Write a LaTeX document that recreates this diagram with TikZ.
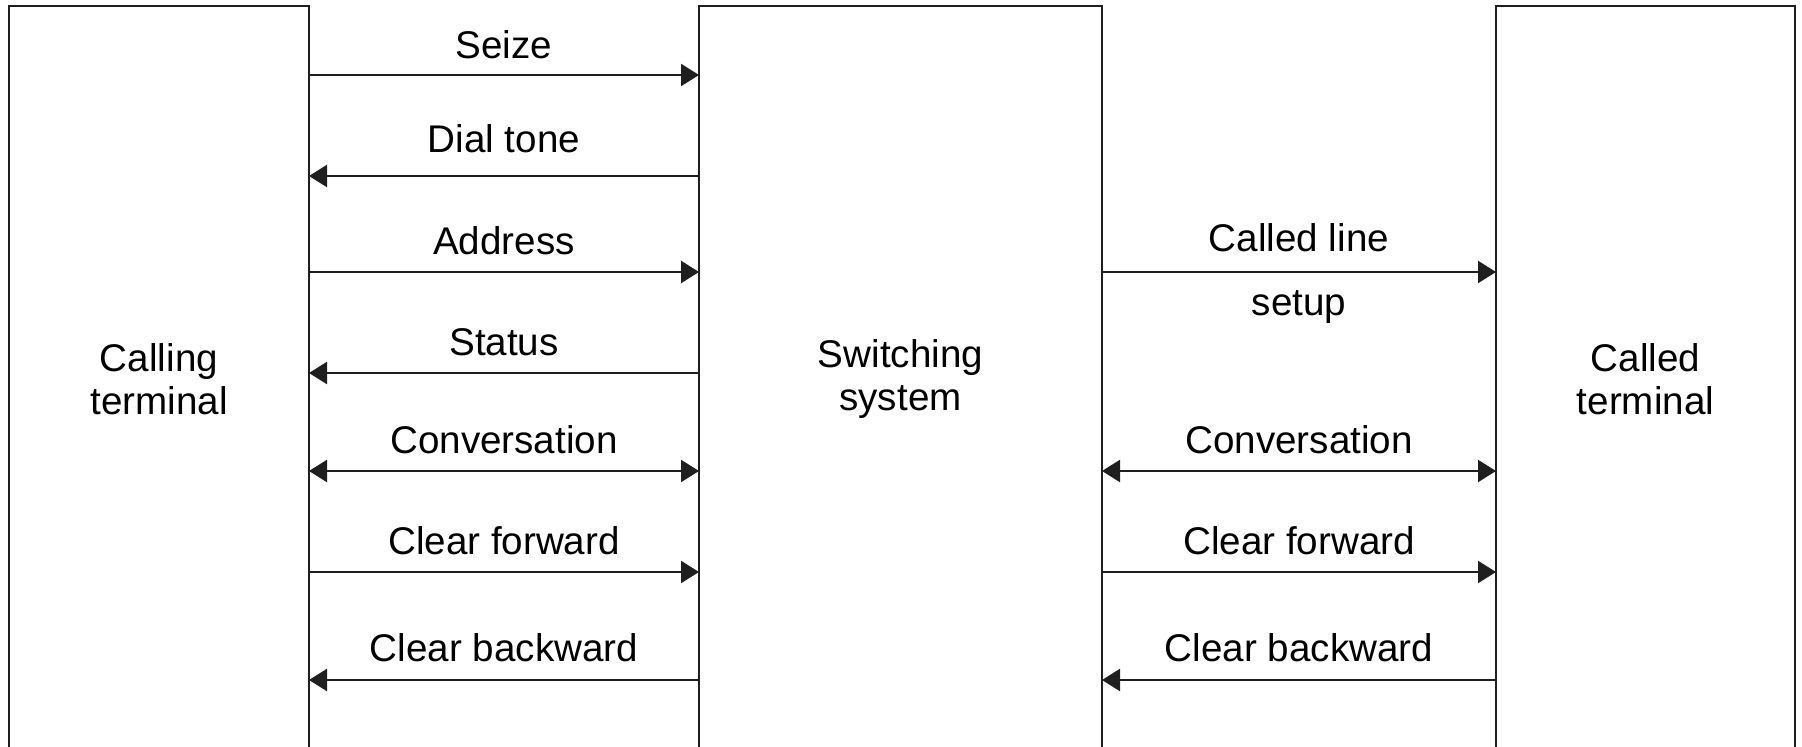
\documentclass[tikz,border=0pt]{standalone}
\usepackage{fontspec}
\setmainfont{Liberation Sans}
\usetikzlibrary{calc}
\usetikzlibrary{arrows.meta}

\begin{document}
\begin{tikzpicture}[x=1pt, y=-1pt, line width=1.15pt, black!88,
 box/.style={draw, outer sep=0, align=center, anchor=north west, minimum height=373pt, text=black},
 fwd/.style={-{Triangle[length=9pt,width=11pt]}},
 bwd/.style={{Triangle[length=9pt,width=11pt]}-},
 two/.style={{Triangle[length=9pt,width=11pt]}-{Triangle[length=9pt,width=11pt]}},
 lbl/.style={anchor=base, text=black, inner sep=0}]
\useasboundingbox (0,0) rectangle (901,373.5);
\fontsize{19.3}{21.3}\selectfont
\node[box, minimum width=150pt] (call) at (4.5,3) {Calling\\terminal};
\node[box, minimum width=201.5pt] (sw) at (349.5,3) {Switching\\system};
\node[box, minimum width=149.5pt] (called) at (748,3) {Called\\terminal};
\foreach \y/\txt/\dir/\up [count=\i] in {37.5/Seize/fwd/8, 88/Dial tone/bwd/11.5, 136/Address/fwd/8.5, 186.5/Status/bwd/8.5, 235.5/Conversation/two/8.5, 286/Clear forward/fwd/8.5, 340/Clear backward/bwd/9.5} {
 \draw[\dir] ($(call.north east)+(0,\y-3)$) -- ($(sw.north west)+(0,\y-3)$) node[lbl, pos=.5, yshift=\up pt] (ml\i) {\txt};
}
\draw[fwd] ($(sw.north east)+(0,133)$) -- ($(called.north west)+(0,133)$)
 node[lbl, pos=.5, yshift=10pt] (setup1) {Called line}
 node[lbl, pos=.5, yshift=-22pt] (setup2) {setup};
\foreach \y/\txt/\dir/\up [count=\i] in {235.5/Conversation/two/8.5, 286/Clear forward/fwd/8.5, 340/Clear backward/bwd/9.5} {
 \draw[\dir] ($(sw.north east)+(0,\y-3)$) -- ($(called.north west)+(0,\y-3)$) node[lbl, pos=.5, yshift=\up pt] (mr\i) {\txt};
}
\end{tikzpicture}
\end{document}
